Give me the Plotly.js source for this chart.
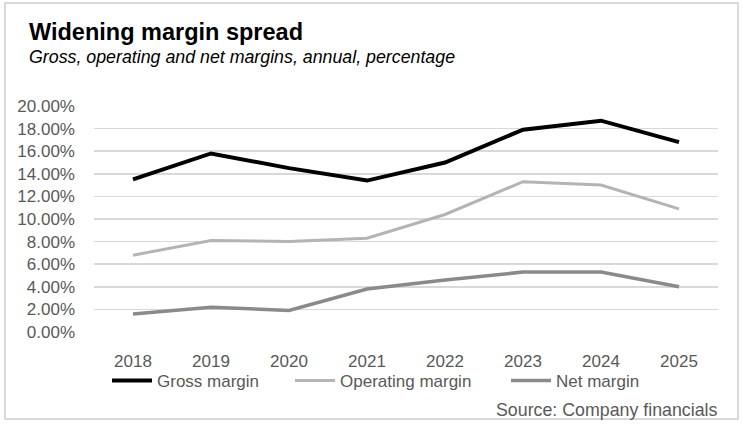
<!DOCTYPE html>
<html>
<head>
<meta charset="utf-8">
<script src="https://cdn.plot.ly/plotly-3.0.1.min.js"></script>
<style>
html,body{margin:0;padding:0;background:#fff;}
#chart{width:743px;height:429px;}
</style>
</head>
<body>
<div id="chart"></div>
<script>
const years = ["2018","2019","2020","2021","2022","2023","2024","2025"];
const grossMargin = [13.5, 15.8, 14.5, 13.4, 15.0, 17.9, 18.7, 16.8];
const operatingMargin = [6.8, 8.1, 8.0, 8.3, 10.4, 13.3, 13.0, 10.9];
const netMargin = [1.6, 2.2, 1.9, 3.8, 4.6, 5.3, 5.3, 4.0];
const seriesNames = ["Gross margin", "Operating margin", "Net margin"];
const yTicks = [0, 2, 4, 6, 8, 10, 12, 14, 16, 18, 20];
const yTickLabels = yTicks.map(v => v.toFixed(2) + "%");

const FONT = "Arial, 'Liberation Sans', sans-serif";

const traces = [
  {x: years, y: grossMargin, name: seriesNames[0], type: "scatter", mode: "lines",
   line: {color: "#000000", width: 4}, legendwidth: 128},
  {x: years, y: operatingMargin, name: seriesNames[1], type: "scatter", mode: "lines",
   line: {color: "#b4b4b4", width: 3}, legendwidth: 161},
  {x: years, y: netMargin, name: seriesNames[2], type: "scatter", mode: "lines",
   line: {color: "#8a8a8a", width: 3.5}}
];

const L = 94, R = 25, T = 106, B = 97;
const W = 743 - L - R, H = 429 - T - B;
const px = x => (x - L) / W;
const py = y => 1 - (y - T) / H;

const layout = {
  width: 743, height: 429,
  margin: {l: L, r: R, t: T, b: B},
  paper_bgcolor: "#ffffff",
  plot_bgcolor: "#ffffff",
  font: {family: FONT, color: "#595959", size: 17},
  showlegend: true,
  legend: {
    orientation: "h", x: px(107), xanchor: "left", y: py(381), yanchor: "middle",
    font: {family: FONT, size: 17, color: "#595959"},
    bgcolor: "rgba(0,0,0,0)", itemwidth: 40, tracegroupgap: 0
  },
  xaxis: {
    type: "category", range: [-0.5, 7.5], showgrid: false, zeroline: false,
    showline: false, ticks: "", tickfont: {family: FONT, size: 17, color: "#595959"},
    ticklabelstandoff: 17, fixedrange: true
  },
  yaxis: {
    range: [0, 20], tickvals: yTicks, ticktext: yTickLabels,
    showgrid: true, gridcolor: "#d9d9d9", gridwidth: 1.5, zeroline: false,
    showline: false, ticks: "", tickfont: {family: FONT, size: 17, color: "#595959"},
    ticklabelstandoff: 18, fixedrange: true
  },
  annotations: [
    {text: "<b>Widening margin spread</b>", xref: "paper", yref: "paper",
     x: px(27), y: py(32), xanchor: "left", yanchor: "middle", showarrow: false,
     font: {family: FONT, size: 23.5, color: "#000000"}},
    {text: "<i>Gross, operating and net margins, annual, percentage</i>", xref: "paper", yref: "paper",
     x: px(27), y: py(57), xanchor: "left", yanchor: "middle", showarrow: false,
     font: {family: FONT, size: 17.8, color: "#000000"}},
    {text: "Source: Company financials", xref: "paper", yref: "paper",
     x: px(719), y: py(410), xanchor: "right", yanchor: "middle", showarrow: false,
     font: {family: FONT, size: 17.8, color: "#595959"}}
  ],
  shapes: [
    {type: "rect", xref: "paper", yref: "paper", x0: px(5), x1: px(738), y0: py(3), y1: py(419),
     line: {color: "#d9d9d9", width: 2}, fillcolor: "rgba(0,0,0,0)", layer: "below"}
  ]
};

Plotly.newPlot("chart", traces, layout, {displayModeBar: false, staticPlot: true});
</script>
</body>
</html>
